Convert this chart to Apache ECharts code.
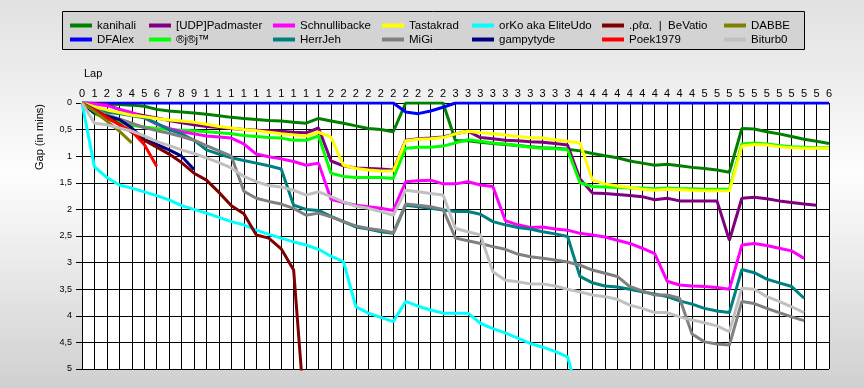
<!DOCTYPE html>
<html>
<head>
<meta charset="utf-8">
<script src="https://cdn.jsdelivr.net/npm/echarts@6/dist/echarts.min.js"></script>
<style>html,body{margin:0;padding:0;}#c{width:864px;height:388px;}</style>
</head>
<body>
<div id="c"></div>
<script>
// Tick labels (the original chart truncates lap numbers to their first digit)
const lapLabels = ['0','1','2','3','4','5','6','7','8','9',
  '1','1','1','1','1','1','1','1','1','1',
  '2','2','2','2','2','2','2','2','2','2',
  '3','3','3','3','3','3','3','3','3','3',
  '4','4','4','4','4','4','4','4','4','4',
  '5','5','5','5','5','5','5','5','5','5','6'];
const gapLabels = ['0','0,5','1','1,5','2','2,5','3','3,5','4','4,5','5'];

// Driver names (legend order, column by column)
const drivers = ['kanihali','DFAlex','[UDP]Padmaster','®j®j™','Schnullibacke','HerrJeh',
  'Tastakrad','MiGi','orKo aka EliteUdo','gampytyde','.ρℓα.  |  BeVatio','Poek1979','DABBE','Biturb0'];
const colors = ['#008000','#0000ff','#800080','#00ff00','#ff00ff','#008080',
  '#ffff00','#808080','#00ffff','#000080','#800000','#ff0000','#808000','#c0c0c0'];

// Gap to leader in minutes, one value per lap starting at lap 0
const kanihali = [0,0.01,0.02,0.03,0.04,0.06,0.12,0.15,0.17,0.19,
  0.21,0.24,0.27,0.29,0.31,0.33,0.34,0.36,0.38,0.29,
  0.34,0.38,0.43,0.48,0.50,0.54,0,0,0,0,
  0.71,0.71,0.74,0.76,0.78,0.80,0.82,0.84,0.85,0.87,
  0.90,0.95,0.99,1.03,1.09,1.13,1.17,1.15,1.18,1.21,
  1.23,1.26,1.30,0.48,0.49,0.54,0.58,0.63,0.68,0.72,0.76];
const DFAlex = [0,0,0,0,0,0,0,0,0,0, 0,0,0,0,0,0,0,0,0,0,
  0,0,0,0,0,0,0.17,0.2,0.15,0.08, 0,0,0,0,0,0,0,0,0,0,
  0,0,0,0,0,0,0,0,0,0, 0,0,0,0,0,0,0,0,0,0,0];
const Padmaster = [0,0.01,0.03,0.12,0.19,0.24,0.28,0.33,0.37,0.41,
  0.44,0.46,0.48,0.50,0.51,0.52,0.53,0.55,0.56,0.47,
  1.09,1.18,1.22,1.23,1.24,1.26,0.70,0.67,0.66,0.64,
  0.58,0.53,0.65,0.67,0.70,0.71,0.73,0.74,0.76,0.79,
  1.43,1.69,1.70,1.72,1.74,1.76,1.82,1.79,1.84,1.84,
  1.84,1.84,2.58,1.79,1.77,1.80,1.84,1.87,1.90,1.92];
const rjrj = [0,0.2,0.3,0.36,0.42,0.45,0.48,0.50,0.51,0.52,
  0.54,0.56,0.58,0.61,0.63,0.65,0.66,0.70,0.70,0.62,
  1.32,1.38,1.40,1.40,1.40,1.42,0.85,0.83,0.83,0.81,
  0.75,0.69,0.72,0.75,0.77,0.80,0.83,0.85,0.86,0.88,
  1.50,1.57,1.58,1.59,1.60,1.60,1.61,1.60,1.61,1.61,
  1.62,1.62,1.62,0.77,0.75,0.77,0.80,0.82,0.83,0.84,0.84];
const Schnullibacke = [0,0.02,0.05,0.12,0.18,0.28,0.40,0.48,0.54,0.58,
  0.62,0.64,0.66,0.77,0.96,1.01,1.05,1.10,1.17,1.13,
  1.81,1.87,1.92,1.95,1.98,2.02,1.48,1.46,1.45,1.52,
  1.52,1.48,1.54,1.57,2.21,2.29,2.34,2.33,2.37,2.39,
  2.45,2.48,2.52,2.58,2.64,2.73,2.83,3.35,3.42,3.44,
  3.45,3.47,3.50,2.67,2.64,2.68,2.73,2.78,2.92];
const HerrJeh = [0,0.08,0.17,0.20,0.24,0.28,0.38,0.50,0.58,0.70,
  0.88,0.96,1.03,1.08,1.13,1.18,1.24,1.92,2.00,2.02,
  2.13,2.23,2.33,2.37,2.42,2.45,1.92,1.95,1.98,2.01,
  2.04,2.04,2.09,2.23,2.29,2.34,2.37,2.42,2.46,2.51,
  3.26,3.38,3.44,3.46,3.50,3.55,3.59,3.64,3.72,3.78,
  3.86,3.91,3.94,3.13,3.19,3.31,3.38,3.45,3.67];
const Tastakrad = [0,0.07,0.13,0.18,0.23,0.26,0.29,0.32,0.34,0.36,
  0.40,0.44,0.47,0.50,0.52,0.55,0.58,0.60,0.62,0.55,
  0.64,1.17,1.23,1.26,1.28,1.28,0.71,0.68,0.67,0.65,
  0.58,0.53,0.56,0.58,0.60,0.63,0.65,0.66,0.69,0.72,
  0.75,1.45,1.52,1.56,1.59,1.62,1.64,1.62,1.63,1.64,
  1.65,1.65,1.65,0.81,0.78,0.79,0.82,0.84,0.85,0.85,0.85];
const MiGi = [0,0.12,0.22,0.30,0.38,0.46,0.52,0.57,0.63,0.70,
  0.80,0.90,1.00,1.66,1.79,1.85,1.90,1.98,2.11,2.07,
  2.14,2.23,2.31,2.36,2.39,2.44,1.90,1.92,1.95,2.00,
  2.54,2.59,2.64,2.70,2.75,2.84,2.89,2.92,2.95,2.99,
  3.05,3.14,3.20,3.26,3.45,3.53,3.61,3.61,3.67,4.34,
  4.49,4.53,4.55,3.73,3.77,3.86,3.94,4.02,4.09];
const orKo = [0,1.20,1.40,1.54,1.60,1.67,1.74,1.82,1.93,2.00,
  2.07,2.15,2.23,2.29,2.39,2.47,2.54,2.61,2.67,2.75,
  2.88,2.98,3.83,3.95,4.03,4.11,3.73,3.82,3.89,3.95,
  3.95,3.95,4.14,4.24,4.32,4.42,4.52,4.59,4.67,4.77,5.6];
const gampytyde = [0,0.19,0.25,0.31,0.47,0.69,0.78,0.88,1.00,1.25];
const BeVatio = [0,0.13,0.26,0.40,0.55,0.70,0.83,0.96,1.12,1.32,
  1.45,1.68,1.93,2.08,2.48,2.54,2.74,3.14,6.2];
const Poek1979 = [0,0.14,0.28,0.41,0.53,0.78,1.19];
const DABBE = [0,0.16,0.34,0.53,0.75];
const Biturb0 = [0,0.38,0.41,0.47,0.53,0.62,0.72,0.80,0.88,0.95,
  1.03,1.12,1.22,1.38,1.48,1.55,1.58,1.64,1.73,1.67,
  1.76,1.86,1.94,1.98,2.04,2.11,1.64,1.67,1.70,1.73,
  2.36,2.42,2.48,3.17,3.33,3.36,3.40,3.40,3.44,3.50,
  3.55,3.61,3.64,3.69,3.80,3.86,3.94,3.94,4.02,4.08,
  4.13,4.19,4.30,3.48,3.50,3.64,3.73,3.83,3.94];

const seriesValues = [kanihali, DFAlex, Padmaster, rjrj, Schnullibacke, HerrJeh,
  Tastakrad, MiGi, orKo, gampytyde, BeVatio, Poek1979, DABBE, Biturb0];

const FONT = 'Liberation Sans, Arial, sans-serif';
const legendColLeft = [70,149,273,382,472,602,724];
const legendRowTop = [19.5,33.5];

const legends = drivers.map((name, i) => ({
  data: [name],
  left: legendColLeft[Math.floor(i / 2)],
  top: legendRowTop[i % 2],
  padding: 0,
  icon: 'rect',
  itemWidth: 22,
  itemHeight: 4,
  itemGap: 0,
  selectedMode: false,
  textStyle: { fontFamily: FONT, fontSize: 11.5, color: '#000', padding: [0,0,0,0] }
}));

const chart = echarts.init(document.getElementById('c'), null, { renderer: 'canvas' });
chart.setOption({
  animation: false,
  backgroundColor: {
    type: 'linear', x: 0, y: 0, x2: 0, y2: 1,
    colorStops: [
      { offset: 0, color: '#e1e1e1' },
      { offset: 0.45, color: '#fdfdfd' },
      { offset: 1, color: '#d0d0d0' }
    ]
  },
  color: colors,
  graphic: [
    { type: 'rect', z: -1, shape: { x: 62.5, y: 11.5, width: 742, height: 38 },
      style: { fill: '#d3d3d3', stroke: '#000', lineWidth: 1 } },
    { type: 'text', left: 84, top: 68,
      style: { text: 'Lap', fontFamily: FONT, fontSize: 11, fill: '#000' } },
    { type: 'text', x: 40, y: 137, rotation: Math.PI / 2,
      style: { text: 'Gap (in mins)', fontFamily: FONT, fontSize: 11, fill: '#000',
        align: 'center', verticalAlign: 'middle' } }
  ],
  legend: legends,
  grid: { left: 82, right: 35, top: 103, bottom: 19, show: true,
    backgroundColor: '#ffffff', borderWidth: 0, containLabel: false },
  xAxis: {
    type: 'value', position: 'top', min: 0, max: 60, interval: 1,
    axisLine: { show: true, lineStyle: { color: '#000', width: 1 } },
    axisTick: { show: false },
    axisLabel: { show: true, margin: 4, fontFamily: FONT, fontSize: 11, color: '#000',
      formatter: v => lapLabels[Math.round(v)] },
    splitLine: { show: true, lineStyle: { color: '#000', width: 1 } }
  },
  yAxis: {
    type: 'value', inverse: true, min: 0, max: 5, interval: 0.5,
    axisLine: { show: true, lineStyle: { color: '#000', width: 1 } },
    axisTick: { show: true, length: 6, lineStyle: { color: '#000' } },
    axisLabel: { margin: 10, fontFamily: FONT, fontSize: 9, color: '#000',
      formatter: v => gapLabels[Math.round(v / 0.5)] },
    splitLine: { show: true, lineStyle: { color: '#000', width: 1 } }
  },
  series: drivers.map((name, i) => ({
    name: name,
    type: 'line',
    clip: true,
    showSymbol: false,
    symbol: 'none',
    lineStyle: { width: 3, color: colors[i] },
    itemStyle: { color: colors[i] },
    emphasis: { disabled: true },
    data: seriesValues[i].map((v, lap) => [lap, v])
  }))
});
</script>
</body>
</html>
